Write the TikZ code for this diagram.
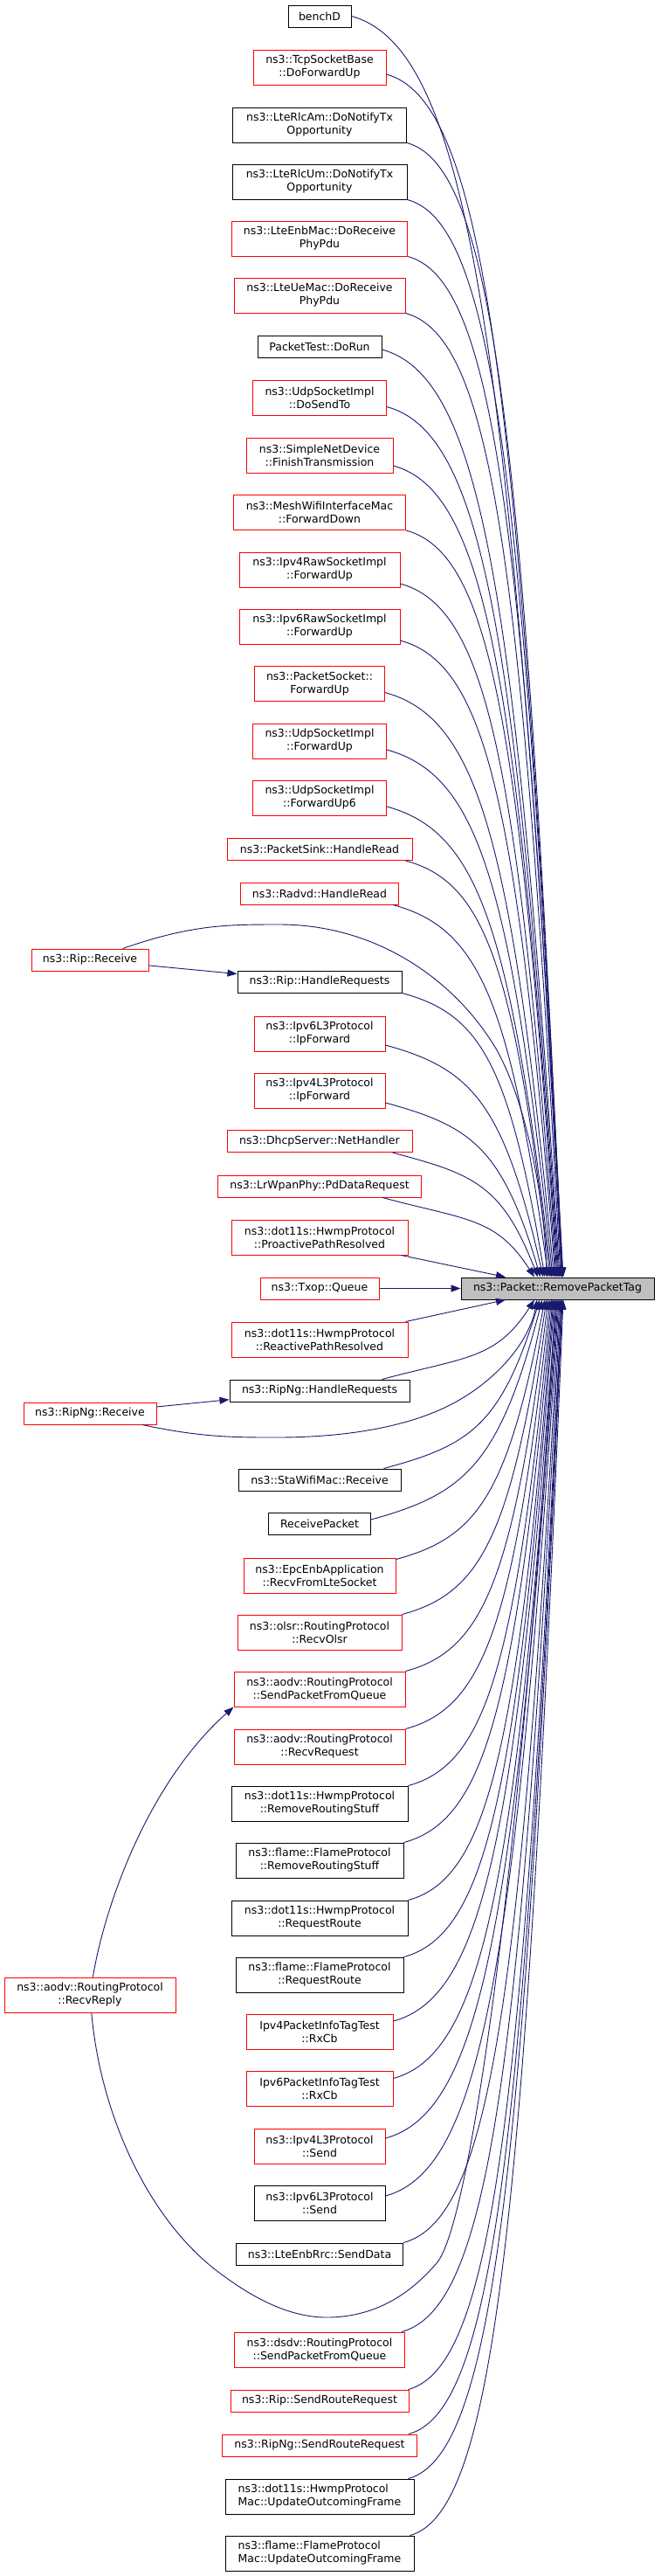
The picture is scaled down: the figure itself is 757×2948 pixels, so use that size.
\documentclass[tikz,border=0pt]{standalone}
\usepackage{fontspec}
\setmainfont{DejaVu Sans}
\usetikzlibrary{arrows.meta}
\definecolor{edgeblue}{HTML}{191970}
\definecolor{tgtfill}{HTML}{BFBFBF}
% upper caller -> target top: #1 start anchor, #2 xs, #3 ys, #4 end x
\newcommand\upE[4]{%
 \pgfmathsetmacro\dX{#4-#2}%
 \pgfmathsetmacro\dY{1462-#3}%
 \pgfmathsetmacro\cAx{#2+0.55*\dX}%
 \pgfmathsetmacro\cAy{#3+0.15*\dX}%
 \pgfmathsetmacro\cBx{#2+0.75*\dX}%
 \pgfmathsetmacro\cBy{#3+0.25*\dY}%
 \pgfmathsetmacro\sh{#4-638.5}%
 \draw[cedge] (#1) .. controls (\cAx,\cAy) and (\cBx,\cBy) .. ([xshift=\sh pt]tgt.north);}
% lower caller -> target bottom
\newcommand\dnE[4]{%
 \pgfmathsetmacro\dX{#4-#2}%
 \pgfmathsetmacro\dY{#3-1487}%
 \pgfmathsetmacro\cAx{#2+0.55*\dX}%
 \pgfmathsetmacro\cAy{#3-0.15*\dX}%
 \pgfmathsetmacro\cBx{#2+0.75*\dX}%
 \pgfmathsetmacro\cBy{#3-0.25*\dY}%
 \pgfmathsetmacro\sh{#4-638.5}%
 \draw[cedge] (#1) .. controls (\cAx,\cAy) and (\cBx,\cBy) .. ([xshift=\sh pt]tgt.south);}
\begin{document}
\begin{tikzpicture}[x=1pt,y=-1pt,
  nbox/.style={draw, line width=1pt, fill=white, inner xsep=2pt, inner ysep=2pt,
    align=center, font=\fontsize{12.5}{15}\selectfont, minimum height=25pt},
  rbox/.style={nbox, draw=red},
  bbox/.style={nbox, draw=black},
  two/.style={minimum height=40pt},
  cedge/.style={draw=edgeblue, line width=0.9pt, -{Triangle[length=11pt,width=8pt]}}]
\useasboundingbox[fill=white] (0,0) rectangle (757,2948);

% ---------- nodes ----------
\node[bbox, minimum width=72] (benchD) at (366,18.5) {benchD};
\node[rbox, two, minimum width=152] (tcp) at (366,77) {ns3::TcpSocketBase\\::DoForwardUp};
\node[bbox, two, minimum width=199] (rlcam) at (366,143) {ns3::LteRlcAm::DoNotifyTx\\Opportunity};
\node[bbox, two, minimum width=200] (rlcum) at (366,208) {ns3::LteRlcUm::DoNotifyTx\\Opportunity};
\node[rbox, two, minimum width=201] (enbmac) at (366,273) {ns3::LteEnbMac::DoReceive\\PhyPdu};
\node[rbox, two, minimum width=196] (uemac) at (366,338) {ns3::LteUeMac::DoReceive\\PhyPdu};
\node[bbox, minimum width=142] (pkttest) at (366,397) {PacketTest::DoRun};
\node[rbox, two, minimum width=153] (udpsendto) at (366,455.5) {ns3::UdpSocketImpl\\::DoSendTo};
\node[rbox, two, minimum width=168] (simplenet) at (366,521) {ns3::SimpleNetDevice\\::FinishTransmission};
\node[rbox, two, minimum width=197] (meshwifi) at (366,586.5) {ns3::MeshWifiInterfaceMac\\::ForwardDown};
\node[rbox, two, minimum width=184] (ipv4raw) at (366,652) {ns3::Ipv4RawSocketImpl\\::ForwardUp};
\node[rbox, two, minimum width=184] (ipv6raw) at (366,717) {ns3::Ipv6RawSocketImpl\\::ForwardUp};
\node[rbox, two, minimum width=149] (pktsock) at (366,782.5) {ns3::PacketSocket::\\ForwardUp};
\node[rbox, two, minimum width=153] (udpfwd) at (366,848) {ns3::UdpSocketImpl\\::ForwardUp};
\node[rbox, two, minimum width=153] (udpfwd6) at (366,913) {ns3::UdpSocketImpl\\::ForwardUp6};
\node[rbox, minimum width=212] (pktsink) at (366,972) {ns3::PacketSink::HandleRead};
\node[rbox, minimum width=181] (radvd) at (366,1022.5) {ns3::Radvd::HandleRead};
\node[rbox, minimum width=134] (ripreceive) at (103,1098.5) {ns3::Rip::Receive};
\node[bbox, minimum width=188] (riphandle) at (366,1123.5) {ns3::Rip::HandleRequests};
\node[rbox, two, minimum width=150] (ipv6fwd) at (366,1183) {ns3::Ipv6L3Protocol\\::IpForward};
\node[rbox, two, minimum width=150] (ipv4fwd) at (366,1248) {ns3::Ipv4L3Protocol\\::IpForward};
\node[rbox, minimum width=212] (dhcp) at (366,1306) {ns3::DhcpServer::NetHandler};
\node[rbox, minimum width=233] (lrwpan) at (366,1357.5) {ns3::LrWpanPhy::PdDataRequest};
\node[rbox, two, minimum width=202] (proactive) at (366,1416) {ns3::dot11s::HwmpProtocol\\::ProactivePathResolved};
\node[rbox, minimum width=136] (txop) at (366,1474.5) {ns3::Txop::Queue};
\node[bbox, fill=tgtfill, minimum width=221] (tgt) at (638.5,1474.5) {ns3::Packet::RemovePacketTag};
\node[rbox, two, minimum width=202] (reactive) at (366,1533) {ns3::dot11s::HwmpProtocol\\::ReactivePathResolved};
\node[bbox, minimum width=206] (ripnghandle) at (366,1591.5) {ns3::RipNg::HandleRequests};
\node[rbox, minimum width=152] (ripngreceive) at (103,1617.5) {ns3::RipNg::Receive};
\node[bbox, minimum width=186] (stawifi) at (366,1693.5) {ns3::StaWifiMac::Receive};
\node[bbox, minimum width=117] (recvpkt) at (366,1744) {ReceivePacket};
\node[rbox, two, minimum width=174] (epc) at (366,1803) {ns3::EpcEnbApplication\\::RecvFromLteSocket};
\node[rbox, two, minimum width=188] (olsr) at (366,1868) {ns3::olsr::RoutingProtocol\\::RecvOlsr};
\node[rbox, two, minimum width=196] (aodvsend) at (366,1933) {ns3::aodv::RoutingProtocol\\::SendPacketFromQueue};
\node[rbox, two, minimum width=196] (aodvreq) at (366,1999) {ns3::aodv::RoutingProtocol\\::RecvRequest};
\node[bbox, two, minimum width=202] (hwmprm) at (366,2064) {ns3::dot11s::HwmpProtocol\\::RemoveRoutingStuff};
\node[bbox, two, minimum width=192] (flamerm) at (366,2129) {ns3::flame::FlameProtocol\\::RemoveRoutingStuff};
\node[bbox, two, minimum width=202] (hwmprr) at (366,2195) {ns3::dot11s::HwmpProtocol\\::RequestRoute};
\node[bbox, two, minimum width=192] (flamerr) at (366,2260) {ns3::flame::FlameProtocol\\::RequestRoute};
\node[rbox, two, minimum width=196] (aodvreply) at (103,2283) {ns3::aodv::RoutingProtocol\\::RecvReply};
\node[rbox, two, minimum width=168] (ipv4tag) at (366,2325) {Ipv4PacketInfoTagTest\\::RxCb};
\node[rbox, two, minimum width=168] (ipv6tag) at (366,2390.5) {Ipv6PacketInfoTagTest\\::RxCb};
\node[rbox, two, minimum width=150] (ipv4send) at (366,2456) {ns3::Ipv4L3Protocol\\::Send};
\node[bbox, two, minimum width=150] (ipv6send) at (366,2521) {ns3::Ipv6L3Protocol\\::Send};
\node[bbox, minimum width=191] (rrc) at (366,2579.5) {ns3::LteEnbRrc::SendData};
\node[rbox, two, minimum width=195] (dsdv) at (366,2689) {ns3::dsdv::RoutingProtocol\\::SendPacketFromQueue};
\node[rbox, minimum width=204] (ripsrr) at (366,2747.5) {ns3::Rip::SendRouteRequest};
\node[rbox, minimum width=223] (ripngsrr) at (366,2798.5) {ns3::RipNg::SendRouteRequest};
\node[bbox, two, minimum width=216, align=left] (hwmpmac) at (366,2857) {ns3::dot11s::HwmpProtocol\\Mac::UpdateOutcomingFrame};
\node[bbox, two, minimum width=216, align=left] (flamemac) at (366,2922) {ns3::flame::FlameProtocol\\Mac::UpdateOutcomingFrame};

% ---------- edges into the top of the target ----------
\upE{benchD.east}{402}{18.5}{645}
\upE{[yshift=-8pt]tcp.east}{442}{85}{644.5}
\upE{rlcam.south east}{465.5}{163}{644}
\upE{rlcum.south east}{466}{228}{643.5}
\upE{enbmac.south east}{466.5}{293}{643}
\upE{uemac.south east}{464}{358}{642}
\upE{[yshift=-3pt]pkttest.east}{437}{400}{641}
\upE{[yshift=-10pt]udpsendto.east}{442.5}{465.5}{640}
\upE{[yshift=-12pt]simplenet.east}{450}{533}{639}
\upE{meshwifi.south east}{464.5}{606.5}{638}
\upE{[yshift=-16pt]ipv4raw.east}{458}{668}{637}
\upE{[yshift=-16pt]ipv6raw.east}{458}{733}{636}
\upE{[yshift=-10pt]pktsock.east}{440.5}{792.5}{634.5}
\upE{[yshift=-10pt]udpfwd.east}{442.5}{858}{633}
\upE{[yshift=-10pt]udpfwd6.east}{442.5}{923}{631.5}
\upE{[xshift=-8pt]pktsink.south east}{464}{984.5}{630}
\upE{[xshift=-7pt]radvd.south east}{449.5}{1035}{628}
\upE{riphandle.south east}{460}{1136}{624}
\upE{[yshift=-13pt]ipv6fwd.east}{441}{1196}{622}
\upE{[yshift=-14pt]ipv4fwd.east}{441}{1262}{619}
\upE{[xshift=-23pt]dhcp.south east}{449}{1318.5}{616}
\upE{[xshift=-45pt]lrwpan.south east}{437.5}{1370}{612}

\draw[cedge] (ripreceive) -- (riphandle);
\draw[cedge] (ripreceive) .. controls (220,1058) and (260,1058) .. (320,1058)
  .. controls (430,1058) and (520,1120) .. (568,1200)
  .. controls (605,1265) and (624,1380) .. ([xshift=-12.5pt]tgt.north);

\draw[cedge] ([xshift=-8pt]proactive.south east) -- ([xshift=-59.5pt]tgt.north);
\draw[cedge] (txop) -- (tgt);
\draw[cedge] ([xshift=-3pt]reactive.north east) -- ([xshift=-59.5pt]tgt.south);

% ---------- edges into the bottom of the target ----------
\draw[cedge] (ripngreceive) -- (ripnghandle);
\draw[cedge] (ripngreceive) .. controls (230,1645) and (270,1645) .. (316,1645)
  .. controls (400,1645) and (460,1632) .. (500,1615)
  .. controls (560,1590) and (605,1540) .. ([xshift=-23.5pt]tgt.south);

\dnE{[xshift=-32pt]ripnghandle.north east}{437}{1579}{612}
\dnE{[xshift=-20pt]stawifi.north east}{439}{1681}{618}
\dnE{[yshift=5pt]recvpkt.east}{424.5}{1739}{621}
\dnE{[yshift=-2pt]epc.north east}{453}{1785}{624}
\dnE{olsr.north east}{460}{1848}{626}
\dnE{aodvsend.north east}{464}{1913}{628}
\dnE{aodvreq.north east}{464}{1979}{630}
\dnE{hwmprm.north east}{467}{2044}{631.5}
\dnE{flamerm.north east}{462}{2109}{633}
\dnE{hwmprr.north east}{467}{2175}{634}
\dnE{flamerr.north east}{462}{2240}{635}
\dnE{[yshift=12pt]ipv4tag.east}{450}{2313}{637}
\dnE{[yshift=12pt]ipv6tag.east}{450}{2378.5}{638}
\dnE{[yshift=9pt]ipv4send.east}{441}{2447}{639}
\dnE{[yshift=8pt]ipv6send.east}{441}{2513}{640}
\dnE{rrc.north east}{461.5}{2567}{641}
\dnE{[xshift=-4pt]dsdv.north east}{459.5}{2669}{642}
\dnE{[xshift=-1pt]ripsrr.north east}{467}{2735}{643}
\dnE{[xshift=-10pt]ripngsrr.north east}{467.5}{2786}{643.5}
\dnE{[xshift=-7pt]hwmpmac.north east}{467}{2837}{644}
\dnE{[xshift=-5pt]flamemac.north east}{469}{2902}{645}

\draw[cedge] (aodvreply) .. controls (120,2180) and (170,2040) .. (aodvsend.south west);
\draw[cedge] (aodvreply) .. controls (115,2420) and (170,2540) .. (250,2600)
  .. controls (300,2638) and (340,2652) .. (374,2652)
  .. controls (430,2652) and (470,2625) .. (500,2590)
  .. controls (540,2545) and (600,2100) .. ([xshift=-2.5pt]tgt.south);
\end{tikzpicture}
\end{document}
